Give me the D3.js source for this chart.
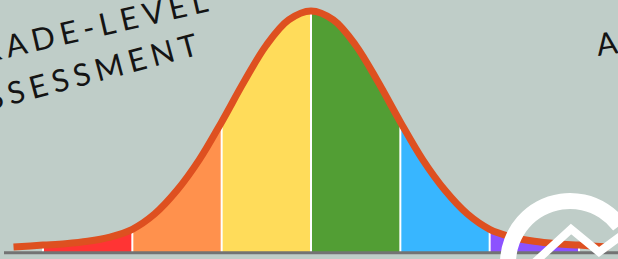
<!DOCTYPE html>
<head>
<meta charset="utf-8">
<script src="https://d3js.org/d3.v7.min.js"></script>
</head>
<body style="margin:0">
<style>
  body { background: #bfcdc8; }
  svg { display: block; }
</style>
<div id="viz"></div>
<script>

// band edges in standard deviations, and the band colours
var bandEdges = [-3, -2, -1, 0, 1, 2, 3];
var bandColors = ["#ff3434", "#ff914d", "#ffdc5a", "#529e34", "#38b6ff", "#8c52ff"];

// bell curve (z in SD, relative height)
var curveZ = [-3.33, -3, -2.75, -2.5, -2.25, -2, -1.75, -1.5, -1.25, -1, -0.75, -0.5, -0.25, 0,
              0.25, 0.5, 0.75, 1, 1.25, 1.5, 1.75, 2, 2.25, 2.5, 2.75, 3, 3.33];
var curveH = [0, 0.008, 0.014, 0.024, 0.042, 0.075, 0.14, 0.24, 0.37, 0.53, 0.70, 0.855, 0.962, 1,
              0.962, 0.855, 0.70, 0.53, 0.37, 0.24, 0.14, 0.075, 0.042, 0.024, 0.014, 0.008, 0];

var titleLines = ["GRADE-LEVEL", "ASSESSMENT"];

var width = 618, height = 259;

var svg = d3.select("#viz").append("svg")
    .attr("width", width)
    .attr("height", height);

svg.append("rect")
    .attr("width", width).attr("height", height)
    .attr("fill", "#bfcdc8");

var x = d3.scaleLinear().domain([-3, 3]).range([43, 579]);
var y = d3.scaleLinear().domain([0, 1]).range([247, 11]);
var base = 252;

var pts = curveZ.map(function(z, i) { return {z: z, h: curveH[i]}; });

var area = d3.area()
    .x(function(d) { return x(d.z); })
    .y0(base)
    .y1(function(d) { return y(d.h); })
    .curve(d3.curveCatmullRom);

var line = d3.line()
    .x(function(d) { return x(d.z); })
    .y(function(d) { return y(d.h); })
    .curve(d3.curveCatmullRom);

// coloured bands, each a clipped copy of the area
var defs = svg.append("defs");
bandColors.forEach(function(c, i) {
  defs.append("clipPath").attr("id", "band" + i)
    .append("rect")
      .attr("x", x(bandEdges[i]))
      .attr("y", 0)
      .attr("width", x(bandEdges[i + 1]) - x(bandEdges[i]))
      .attr("height", height);
  svg.append("path")
    .datum(pts)
    .attr("clip-path", "url(#band" + i + ")")
    .attr("fill", c)
    .attr("d", area);
});

// white dividers
svg.selectAll(".divider")
  .data(bandEdges)
  .enter().append("line")
    .attr("class", "divider")
    .attr("x1", function(d) { return x(d); })
    .attr("x2", function(d) { return x(d); })
    .attr("y1", base)
    .attr("y2", function(d) { return y(curveH[curveZ.indexOf(d)]); })
    .attr("stroke", "white")
    .attr("stroke-width", 2);

// the curve
svg.append("path")
    .datum(pts)
    .attr("fill", "none")
    .attr("stroke", "#de5020")
    .attr("stroke-width", 7)
    .attr("d", line);

// baseline
svg.append("line")
    .attr("x1", 4).attr("x2", width)
    .attr("y1", base + 0.8).attr("y2", base + 0.8)
    .attr("stroke", "#737373")
    .attr("stroke-width", 3);

// handwritten-style title, each line at its own slant
var ends = [[215, 10], [205, 53]];
var tilt = [-13, -15];
titleLines.forEach(function(t, i) {
  svg.append("text")
    .attr("transform", "translate(" + ends[i][0] + "," + ends[i][1] + ") rotate(" + tilt[i] + ")")
    .attr("text-anchor", "end")
    .style("font-family", "Lato, 'Open Sans', sans-serif")
    .style("font-weight", 400)
    .style("font-size", "31px")
    .style("letter-spacing", "5.5px")
    .attr("fill", "#141414")
    .text(t);
});

svg.append("text")
    .attr("transform", "translate(598,56) rotate(-8)")
    .style("font-family", "Lato, 'Open Sans', sans-serif")
    .style("font-weight", 400)
    .style("font-size", "31px")
    .style("letter-spacing", "5.5px")
    .attr("fill", "#141414")
    .text("ABOVE");

// logo in the corner
var logo = svg.append("g").attr("transform", "translate(570,263)");
logo.append("path")
    .attr("fill", "white")
    .attr("d", d3.arc()
      .innerRadius(54)
      .outerRadius(70)
      .startAngle(-110 * Math.PI / 180)
      .endAngle(53 * Math.PI / 180)());
logo.append("polyline")
    .attr("points", "-36,0 1,-34 29,-11 52,-28")
    .attr("fill", "none")
    .attr("stroke", "white")
    .attr("stroke-width", 8)
    .attr("stroke-linejoin", "miter");

</script>
</body>
